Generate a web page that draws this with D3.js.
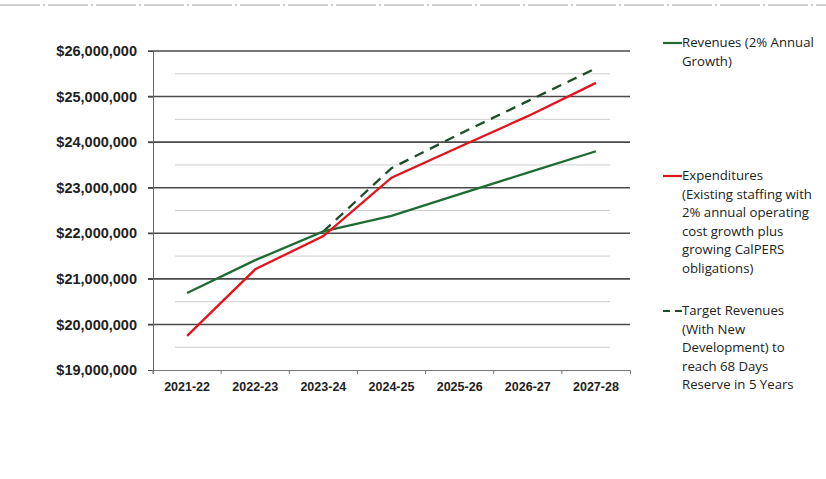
<!DOCTYPE html>
<html><head><meta charset="utf-8">
<script src="https://cdn.jsdelivr.net/npm/d3@7"></script>
<style>body{margin:0;background:#fff}svg{display:block}</style>
</head><body>
<script>
const categories = ["2021-22","2022-23","2023-24","2024-25","2025-26","2026-27","2027-28"];
const revenues = [20.69, 21.41, 22.04, 22.38, 22.86, 23.33, 23.80];
const expenditures = [19.75, 21.21, 21.94, 23.22, 23.90, 24.57, 25.30];
const targetRevenues = [null, null, 22.04, 23.43, 24.18, 24.90, 25.62];
const yTicks = [19, 20, 21, 22, 23, 24, 25, 26];
const minorTicks = [19.5, 20.5, 21.5, 22.5, 23.5, 24.5, 25.5];
const legendItems = [
  {label:["Revenues (2% Annual","Growth)"], color:"#1f6b34", dash:null},
  {label:["Expenditures","(Existing staffing with","2% annual operating","cost growth plus","growing CalPERS","obligations)"], color:"#e3141c", dash:null},
  {label:["Target Revenues","(With New","Development) to","reach 68 Days","Reserve in 5 Years"], color:"#1e4f2a", dash:"10,7"}
];

const W=826,H=479;
const svg=d3.select("body").append("svg").attr("width",W).attr("height",H);
const x=d3.scaleBand().domain(categories).range([153,630]);
const y=d3.scaleLinear().domain([19,26]).range([370,51]);
const cx=d=>x(d)+x.bandwidth()/2;

// faint scan line at top
svg.append("line").attr("x1",0).attr("x2",826).attr("y1",5).attr("y2",5)
  .attr("stroke","#888").attr("stroke-width",0.8).attr("stroke-dasharray","40,3,2,3");

// minor gridlines
svg.selectAll(".minor").data(minorTicks).join("line")
  .attr("x1",175).attr("x2",610).attr("y1",d=>y(d)).attr("y2",d=>y(d))
  .attr("stroke","#cfcfcf").attr("stroke-width",1);
// major gridlines
svg.selectAll(".major").data(yTicks.slice(1)).join("line")
  .attr("x1",148).attr("x2",630).attr("y1",d=>y(d)).attr("y2",d=>y(d))
  .attr("stroke","#4a4a4a").attr("stroke-width",1.6);

// y axis
const yAxis=d3.axisLeft(y).tickValues(yTicks).tickSize(5).tickPadding(11)
  .tickFormat(d=>"$"+d3.format(",")(d*1e6));
const ga=svg.append("g").attr("transform","translate(153,0)").call(yAxis);
ga.select(".domain").attr("stroke","#666").attr("stroke-width",1);
ga.selectAll(".tick line").attr("stroke","#444");
ga.selectAll("text").attr("font-family","Liberation Sans, Arial, sans-serif")
  .attr("font-weight","bold").attr("font-size",14.5).attr("fill","#222");

// x axis
const xAxis=d3.axisBottom(x).tickSize(4).tickPadding(8);
const gx=svg.append("g").attr("transform","translate(0,370)").call(xAxis);
gx.select(".domain").attr("stroke","#777").attr("stroke-width",1);
gx.selectAll(".tick line").attr("stroke","#777").attr("transform",`translate(${-x.bandwidth()/2},0)`);
gx.selectAll("text").attr("font-family","Liberation Sans, Arial, sans-serif")
  .attr("font-weight","bold").attr("font-size",12.5).attr("fill","#222");

const line=d3.line().defined(d=>d[1]!=null).x(d=>cx(d[0])).y(d=>y(d[1]));
const series=[
  {vals:targetRevenues, color:legendItems[2].color, dash:legendItems[2].dash},
  {vals:revenues, color:legendItems[0].color, dash:null},
  {vals:expenditures, color:legendItems[1].color, dash:null}
];
series.forEach(s=>{
  svg.append("path").datum(categories.map((c,i)=>[c,s.vals[i]]))
    .attr("d",line).attr("fill","none").attr("stroke",s.color)
    .attr("stroke-width",2.3).attr("stroke-dasharray",s.dash);
});

// legend
const legendY=[47,180,315];
legendItems.forEach((it,i)=>{
  const g=svg.append("g").attr("transform",`translate(0,${legendY[i]})`);
  g.append("line").attr("x1",663).attr("x2",682).attr("y1",-4).attr("y2",-4)
    .attr("stroke",it.color).attr("stroke-width",2.2).attr("stroke-dasharray",it.dash?"7,5":null);
  const t=g.append("text").attr("font-family","Open Sans, sans-serif").attr("font-size",13.2).attr("fill","#222");
  it.label.forEach((l,j)=>t.append("tspan").attr("x",682).attr("y",j*18.6).text(l));
});
</script>
</body></html>
